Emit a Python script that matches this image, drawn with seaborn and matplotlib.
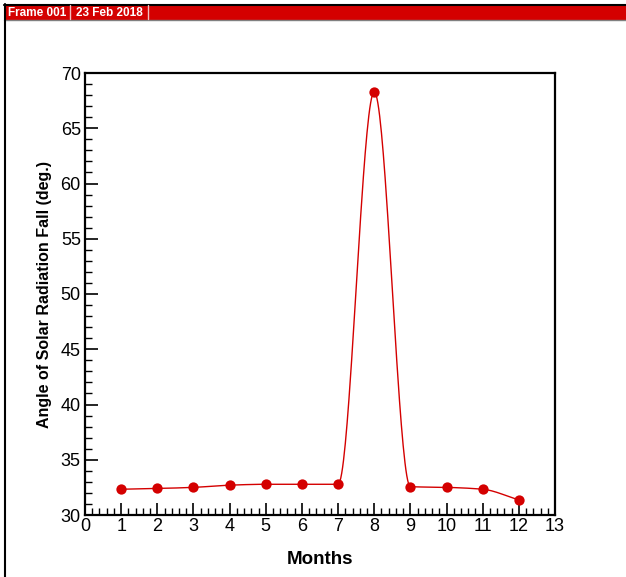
import numpy as np
import pandas as pd
import matplotlib
matplotlib.use("Agg")
import matplotlib.pyplot as plt
from matplotlib.patches import Rectangle
from matplotlib.lines import Line2D
from matplotlib.ticker import MultipleLocator
import seaborn as sns

months = [1, 2, 3, 4, 5, 6, 7, 8, 9, 10, 11, 12]
angles = [32.33, 32.4, 32.5, 32.7, 32.78, 32.78, 32.78, 68.28, 32.56, 32.5, 32.33, 31.36]
x_ticks = list(range(0, 14))
y_ticks = [30, 35, 40, 45, 50, 55, 60, 65, 70]
header_frame = "Frame 001"
header_date = "23 Feb 2018"
x_label = "Months"
y_label = "Angle of Solar Radiation Fall (deg.)"

RED = "#D40000"


def pchip_curve(x, y, n=40):
    x = np.asarray(x, float)
    y = np.asarray(y, float)
    h = np.diff(x)
    d = np.diff(y) / h
    m = np.zeros_like(y)
    for k in range(1, len(x) - 1):
        if d[k - 1] * d[k] > 0:
            w1 = 2 * h[k] + h[k - 1]
            w2 = h[k] + 2 * h[k - 1]
            m[k] = (w1 + w2) / (w1 / d[k - 1] + w2 / d[k])
    m[0] = d[0]
    m[-1] = d[-1]
    xs, ys = [], []
    for k in range(len(x) - 1):
        t = np.linspace(0, 1, n, endpoint=(k == len(x) - 2))
        h00 = 2 * t**3 - 3 * t**2 + 1
        h10 = t**3 - 2 * t**2 + t
        h01 = -2 * t**3 + 3 * t**2
        h11 = t**3 - t**2
        xs.append(x[k] + t * h[k])
        ys.append(h00 * y[k] + h10 * h[k] * m[k] + h01 * y[k + 1] + h11 * h[k] * m[k + 1])
    return np.concatenate(xs), np.concatenate(ys)


sns.set_style("white")
plt.rcParams["font.family"] = ["Liberation Sans", "DejaVu Sans"]
plt.rcParams["text.color"] = "black"
plt.rcParams["axes.labelcolor"] = "black"

fig = plt.figure(figsize=(6.26, 5.77), dpi=100)
W, H = 626, 577
ax = fig.add_axes([85 / W, 1 - 515 / H, (555 - 85) / W, (515 - 73) / H])

df = pd.DataFrame({"month": months, "angle": angles})
cx, cy = pchip_curve(months, angles)
curve = pd.DataFrame({"month": cx, "angle": cy})
sns.lineplot(data=curve, x="month", y="angle", ax=ax, color=RED, linewidth=1.0,
             sort=False, estimator=None)
sns.scatterplot(data=df, x="month", y="angle", ax=ax, color=RED, s=55,
                edgecolor=RED, linewidth=0, zorder=3)

ax.set_xlim(0, 13)
ax.set_ylim(30, 70)
ax.set_xticks(x_ticks)
ax.set_yticks(y_ticks)
ax.xaxis.set_minor_locator(MultipleLocator(0.2))
ax.yaxis.set_minor_locator(MultipleLocator(1))
ax.tick_params(which="both", direction="in", top=False, right=False, bottom=True, left=True,
               color="black", labelcolor="black", labelsize=13)
ax.tick_params(which="major", length=9, width=1.2)
ax.tick_params(which="minor", length=5, width=1.0)
ax.tick_params(axis="x", pad=2)
ax.tick_params(axis="y", pad=3)
for s in ax.spines.values():
    s.set_color("black")
    s.set_linewidth(1.6)

ax.set_xlabel(x_label, fontsize=13.5, fontweight="bold", labelpad=12)
ax.set_ylabel(y_label, fontsize=11.5, fontweight="bold", labelpad=6)

# Frame header
fig.patches.append(Rectangle((4 / W, 1 - 20 / H), 1, 15 / H, transform=fig.transFigure,
                             facecolor=RED, edgecolor="none", zorder=0))
fig.lines.append(Line2D([4 / W, 1], [1 - 4.5 / H, 1 - 4.5 / H], transform=fig.transFigure,
                        color="black", linewidth=1.5))
fig.lines.append(Line2D([4 / W, 1], [1 - 20 / H, 1 - 20 / H], transform=fig.transFigure,
                        color="#808080", linewidth=1.0))
fig.lines.append(Line2D([4.5 / W, 4.5 / W], [0, 1 - 4 / H], transform=fig.transFigure,
                        color="black", linewidth=1.5))
for xp in (70, 148):
    fig.lines.append(Line2D([xp / W, xp / W], [1 - 19 / H, 1 - 5 / H], transform=fig.transFigure,
                            color="#F0C0C0", linewidth=1.0))
hdr_font = ["Liberation Sans Narrow", "Liberation Sans", "DejaVu Sans"]
fig.text(8 / W, 1 - 12.5 / H, header_frame, color="white", fontsize=8.5, fontweight="bold",
         family=hdr_font, va="center", ha="left")
fig.text(76 / W, 1 - 12.5 / H, header_date, color="white", fontsize=8.5, fontweight="bold",
         family=hdr_font, va="center", ha="left")

fig.savefig("out.png", dpi=100)
